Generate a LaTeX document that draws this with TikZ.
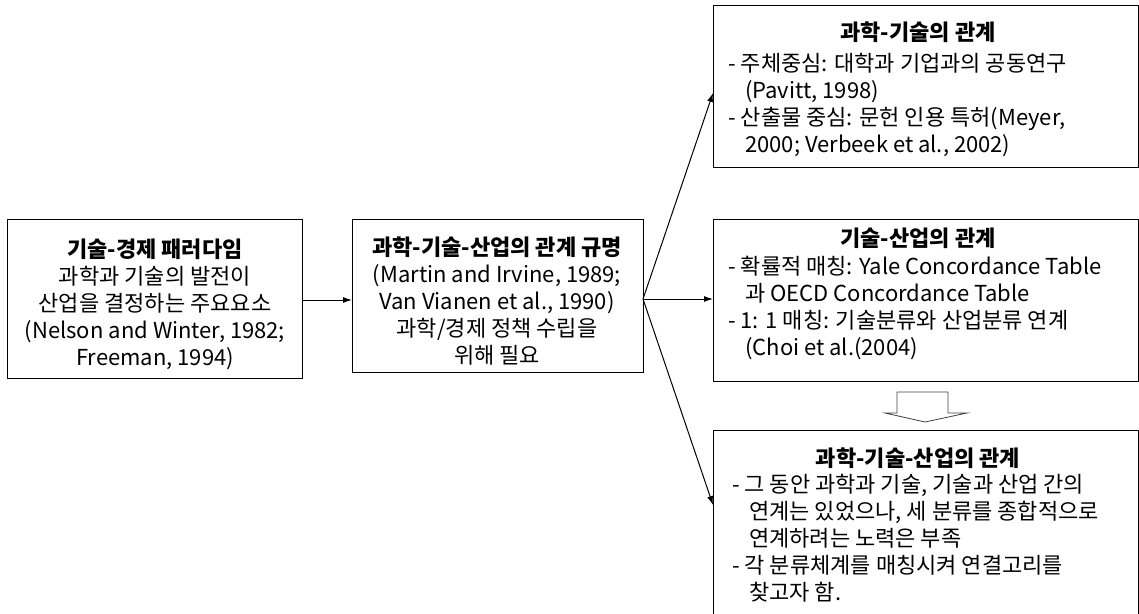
\documentclass[tikz,border=0pt]{standalone}
\usepackage{fontspec}
\setmainfont{Noto Sans CJK KR}
\usetikzlibrary{arrows.meta}
\tikzset{
  boxframe/.style={draw, line width=1.4pt, rectangle, inner sep=0pt, anchor=north west},
  ctext/.style={align=center, inner sep=0pt, font=\fontsize{22pt}{27pt}\selectfont},
  ttext/.style={inner sep=0pt, font=\fontsize{22pt}{27pt}\selectfont\bfseries},
  btext/.style={align=left, inner sep=0pt, anchor=west, font=\fontsize{22pt}{27pt}\selectfont},
  conn/.style={line width=1pt, -{Latex[length=9pt,width=6pt]}},
}
\newcommand{\ind}{\hspace*{17pt}}
\begin{document}
\begin{tikzpicture}[x=1pt,y=-1pt]
\useasboundingbox (0,0) rectangle (1139,613);
% boxes
\node[boxframe, minimum width=295pt, minimum height=159pt] (b1) at (7,219) {};
\node[boxframe, minimum width=291pt, minimum height=153pt] (b2) at (352,219) {};
\node[boxframe, minimum width=425pt, minimum height=162pt] (b3) at (713,5) {};
\node[boxframe, minimum width=425pt, minimum height=162pt] (b4) at (713,219) {};
\node[boxframe, minimum width=425pt, minimum height=200pt] (b5) at (713,430) {};
% box 1 text
\node[ctext] (t1) at (155,304) {\textbf{기술-경제 패러다임}\\과학과 기술의 발전이\\산업을 결정하는 주요요소\\(Nelson and Winter, 1982;\\Freeman, 1994)};
% box 2 text
\node[ctext] (t2) at (497,301) {\textbf{과학-기술-산업의 관계 규명}\\(Martin and Irvine, 1989;\\Van Vianen et al., 1990)\\과학/경제 정책 수립을\\위해 필요};
% box 3
\node[ttext] (h3) at (918,32) {과학-기술의 관계};
\node[btext] (t3) at (728,105) {- 주체중심: 대학과 기업과의 공동연구\\\ind(Pavitt, 1998)\\- 산출물 중심: 문헌 인용 특허(Meyer,\\\ind 2000; Verbeek et al., 2002)};
% box 4
\node[ttext] (h4) at (918,238) {기술-산업의 관계};
\node[btext] (t4) at (728,308) {- 확률적 매칭: Yale Concordance Table\\\ind 과 OECD Concordance Table\\- 1: 1 매칭: 기술분류와 산업분류 연계\\\ind(Choi et al.(2004)};
% box 5
\node[ttext] (h5) at (918,458) {과학-기술-산업의 관계};
\node[btext] (t5) at (732,538) {- 그 동안 과학과 기술, 기술과 산업 간의\\\ind 연계는 있었으나, 세 분류를 종합적으로\\\ind 연계하려는 노력은 부족\\- 각 분류체계를 매칭시켜 연결고리를\\\ind 찾고자 함.};
% connectors
\coordinate (o2) at (643,299);
\draw[conn] (302,300) -- (352,300);
\draw[conn] (o2) -- (713,93);
\draw[conn] (o2) -- (713,299);
\draw[conn] (o2) -- (713,505);
% block arrow
\draw[line width=0.8pt, draw=black!75] (897,392) -- (948,392) -- (948,413) -- (967,413) -- (925,422) -- (885,413) -- (897,413) -- cycle;
\end{tikzpicture}
\end{document}
